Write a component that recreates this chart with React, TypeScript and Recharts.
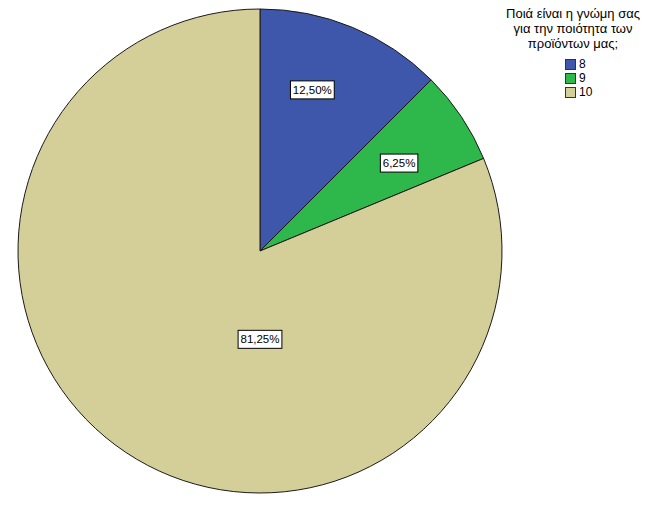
import { Cell, Legend, Pie, PieChart } from 'recharts';

const categories = ['8', '9', '10'];
const percents = [12.5, 6.25, 81.25];
const percentLabels = ['12,50%', '6,25%', '81,25%'];
const colors = ['#3e57ab', '#2eb84b', '#d4ce98'];
const legendTitle = ['Ποιά είναι η γνώμη σας', 'για την ποιότητα των', 'προϊόντων μας;'];

// where SPSS put each label box: angle clockwise from 12 o'clock, share of the radius
const labelSpots = [
  { angle: 18, r: 0.7 },
  { angle: 57.7, r: 0.68 },
  { angle: 180, r: 0.365 }
];

const data = categories.map((name, i) => ({ name, value: percents[i], label: percentLabels[i] }));

const RAD = Math.PI / 180;

function renderLabel(props: any) {
  const { cx, cy, outerRadius, index } = props;
  const spot = labelSpots[index];
  const x = cx + Math.sin(spot.angle * RAD) * outerRadius * spot.r;
  const y = cy - Math.cos(spot.angle * RAD) * outerRadius * spot.r;
  const text = data[index].label;
  const w = text.length * 6.3 + 6;
  return (
    <g>
      <rect x={x - w / 2} y={y - 9} width={w} height={18} fill="#fff" stroke="#000" strokeWidth={1} />
      <text x={x} y={y + 4} textAnchor="middle" fontSize={11.5} fill="#000" fontFamily="Liberation Sans, Arial, sans-serif">
        {text}
      </text>
    </g>
  );
}

function LegendBox() {
  return (
    <div style={{ fontFamily: 'Liberation Sans, Arial, sans-serif', color: '#000', width: 168 }}>
      <div style={{ textAlign: 'center', fontSize: 13, lineHeight: '15px' }}>
        {legendTitle.map((t) => (
          <div key={t}>{t}</div>
        ))}
      </div>
      <div style={{ marginTop: 6, marginLeft: 76 }}>
        {data.map((d, i) => (
          <div key={d.name} style={{ display: 'flex', alignItems: 'center', height: 14, fontSize: 12 }}>
            <span
              style={{
                display: 'inline-block',
                width: 9,
                height: 9,
                background: colors[i],
                border: '1px solid #333',
                marginRight: 3
              }}
            />
            {d.name}
          </div>
        ))}
      </div>
    </div>
  );
}

export default function App() {
  return (
    <div style={{ position: 'absolute', left: 0, top: 0, width: 658, height: 509, background: '#fff' }}>
      <PieChart width={658} height={509} margin={{ top: 0, right: 0, bottom: 0, left: 0 }}>
        <Pie
          data={data}
          dataKey="value"
          nameKey="name"
          cx={260}
          cy={251}
          outerRadius={242}
          startAngle={90}
          endAngle={-270}
          stroke="#1a1a1a"
          strokeWidth={1}
          label={renderLabel}
          labelLine={false}
          isAnimationActive={false}
        >
          {data.map((d, i) => (
            <Cell key={d.name} fill={colors[i]} />
          ))}
        </Pie>
        <Legend
          layout="vertical"
          verticalAlign="top"
          align="right"
          wrapperStyle={{ left: 489, top: 6, width: 168 }}
          content={() => <LegendBox />}
        />
      </PieChart>
    </div>
  );
}
